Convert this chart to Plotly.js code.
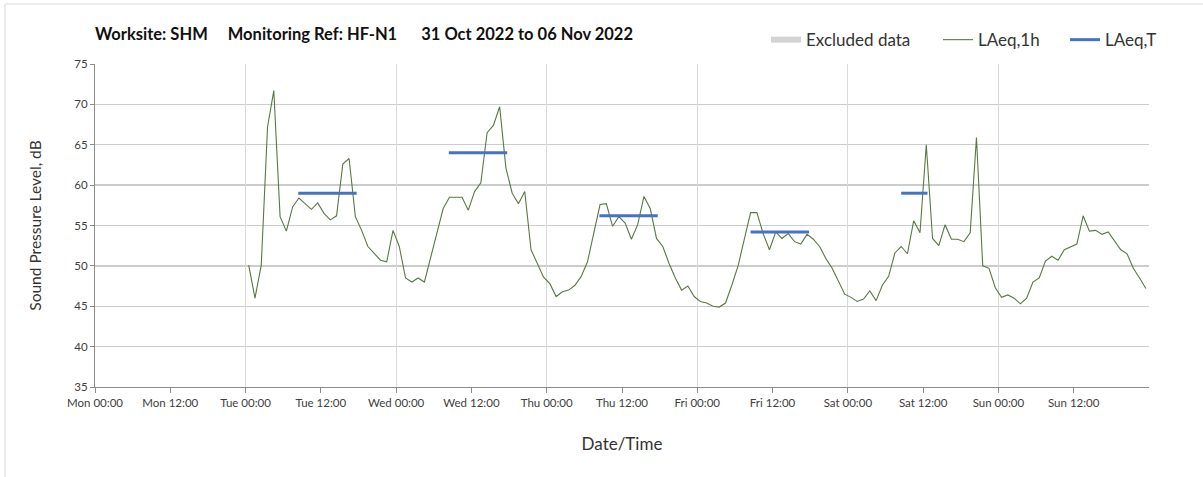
<!DOCTYPE html>
<html>
<head>
<meta charset="utf-8">
<script src="https://cdn.plot.ly/plotly-3.0.1.min.js"></script>
<style>
html,body{margin:0;padding:0;background:#fff;}
#chart{width:1203px;height:477px;}
</style>
</head>
<body>
<div id="chart"></div>
<script>
// Hourly LAeq,1h values, Tue 01 Nov 2022 00:00 to Sun 06 Nov 2022 23:00
var seriesStart = "2022-11-01T00:30:00";
var laeq1h = [
  // Tue
  50.1, 46.0, 50.1, 67.2, 71.7, 56.1, 54.3, 57.3, 58.4, 57.7, 57.0, 57.8,
  56.5, 55.7, 56.2, 62.6, 63.3, 56.1, 54.4, 52.4, 51.6, 50.7, 50.5, 54.4,
  // Wed
  52.4, 48.5, 48.0, 48.5, 48.0, 51.1, 54.0, 57.1, 58.5, 58.5, 58.5, 56.9,
  59.2, 60.3, 66.5, 67.4, 69.7, 62.1, 59.0, 57.7, 59.2, 52.0, 50.4, 48.6,
  // Thu
  47.8, 46.2, 46.8, 47.0, 47.6, 48.7, 50.5, 54.0, 57.6, 57.7, 54.9, 56.1,
  55.3, 53.3, 55.1, 58.6, 57.1, 53.4, 52.4, 50.3, 48.5, 47.0, 47.5, 46.2,
  // Fri
  45.6, 45.4, 45.0, 44.9, 45.4, 47.6, 50.0, 53.3, 56.6, 56.6, 54.0, 52.0,
  54.2, 53.4, 54.0, 53.0, 52.7, 53.9, 53.3, 52.4, 50.9, 49.7, 48.0, 46.5,
  // Sat
  46.1, 45.6, 45.9, 46.9, 45.7, 47.6, 48.7, 51.6, 52.4, 51.5, 55.6, 54.1,
  65.0, 53.4, 52.5, 55.1, 53.3, 53.3, 53.0, 54.1, 65.9, 50.0, 49.7, 47.3,
  // Sun
  46.1, 46.4, 46.0, 45.3, 46.0, 48.0, 48.5, 50.6, 51.2, 50.7, 52.0, 52.3,
  52.7, 56.2, 54.3, 54.4, 53.9, 54.2, 53.1, 52.0, 51.5, 49.7, 48.5, 47.2
];

// LAeq,T period values
var periodStart = ["2022-11-01 08:24", "2022-11-02 08:24", "2022-11-03 08:24", "2022-11-04 08:30", "2022-11-05 08:30"];
var periodEnd   = ["2022-11-01 17:42", "2022-11-02 17:42", "2022-11-03 17:42", "2022-11-04 17:48", "2022-11-05 12:42"];
var periodValue = [59.0, 64.0, 56.2, 54.2, 59.0];

var xRange = ["2022-10-31 00:00", "2022-11-07 00:00"];
var xTickVals = ["2022-10-31 00:00","2022-10-31 12:00","2022-11-01 00:00","2022-11-01 12:00","2022-11-02 00:00","2022-11-02 12:00",
  "2022-11-03 00:00","2022-11-03 12:00","2022-11-04 00:00","2022-11-04 12:00","2022-11-05 00:00","2022-11-05 12:00",
  "2022-11-06 00:00","2022-11-06 12:00"];
var xTickText = ["Mon 00:00","Mon 12:00","Tue 00:00","Tue 12:00","Wed 00:00","Wed 12:00","Thu 00:00","Thu 12:00",
  "Fri 00:00","Fri 12:00","Sat 00:00","Sat 12:00","Sun 00:00","Sun 12:00"];
var yTicks = [35, 40, 45, 50, 55, 60, 65, 70, 75];

// Build timestamps for hourly series
function pad(n){return (n<10?"0":"")+n;}
var t0 = new Date(seriesStart + "Z").getTime();
var xHourly = laeq1h.map(function(_, i){
  var d = new Date(t0 + i*3600000);
  return d.getUTCFullYear()+"-"+pad(d.getUTCMonth()+1)+"-"+pad(d.getUTCDate())+" "+pad(d.getUTCHours())+":"+pad(d.getUTCMinutes());
});

var xT = [], yT = [];
for (var k=0;k<periodValue.length;k++){
  xT.push(periodStart[k], periodEnd[k], null);
  yT.push(periodValue[k], periodValue[k], null);
}

var FONT = "Lato, 'Open Sans', sans-serif";

var traces = [
  {type:"scatter", mode:"none", x:[null], y:[null], fill:"toself", fillcolor:"#d3d3d3", name:"Excluded data", legend:"legend", showlegend:true, hoverinfo:"skip"},
  {type:"scatter", mode:"lines", x:xHourly, y:laeq1h, name:"LAeq,1h", line:{color:"#5a7845", width:1.1}, legend:"legend2"},
  {type:"scatter", mode:"lines", x:xT, y:yT, name:"LAeq,T", line:{color:"#4472c4", width:3}, connectgaps:false, legend:"legend3"},
  {type:"scatter", mode:"lines", x:xRange, y:[null,null], xaxis:"x2", showlegend:false, hoverinfo:"skip"}
];

var legendBase = {orientation:"h", yanchor:"middle", y:1.074, xanchor:"left", bgcolor:"rgba(0,0,0,0)",
  font:{family:FONT, size:17, color:"#333"}, itemwidth:30, tracegroupgap:0};

var layout = {
  width:1203, height:477,
  margin:{l:95, r:54, t:64, b:90},
  paper_bgcolor:"#fff", plot_bgcolor:"#fff",
  font:{family:FONT, color:"#404040"},
  title:{text:"<b>Worksite: SHM     Monitoring Ref: HF-N1      31 Oct 2022 to 06 Nov 2022</b>",
    x:95/1203, xanchor:"left", xref:"container", y:1-34/477, yanchor:"middle", yref:"container",
    font:{family:FONT, size:16.5, color:"#111"}},
  xaxis:{type:"date", range:xRange, tickvals:xTickVals, ticktext:xTickText,
    showgrid:false, zeroline:false, showline:true, linecolor:"#8c8c8c", linewidth:1,
    ticks:"outside", ticklen:5, tickcolor:"#8c8c8c",
    tickfont:{family:FONT, size:11.5, color:"#404040"},
    title:{text:"Date/Time", font:{family:FONT, size:17, color:"#333"}, standoff:30}},
  xaxis2:{type:"date", range:xRange, overlaying:"x", dtick:86400000, tick0:"2022-10-31 00:00",
    showgrid:true, gridcolor:"#d9d9d9", gridwidth:1, showticklabels:false, ticks:"", zeroline:false, showline:false, side:"bottom"},
  yaxis:{range:[35,75], tickvals:yTicks, showgrid:true, gridcolor:"#cccccc", gridwidth:1.3, zeroline:false,
    showline:true, linecolor:"#8c8c8c", linewidth:1, ticks:"outside", ticklen:4, tickcolor:"#8c8c8c",
    tickfont:{family:FONT, size:11.5, color:"#404040"},
    title:{text:"Sound Pressure Level, dB", font:{family:FONT, size:15.5, color:"#333"}, standoff:28}},
  legend: Object.assign({}, legendBase, {x:(766-95)/1054}),
  legend2: Object.assign({}, legendBase, {x:(938-95)/1054}),
  legend3: Object.assign({}, legendBase, {x:(1065-95)/1054}),
  shapes:[{type:"rect", xref:"paper", yref:"paper", x0:(5-95)/1054, x1:(1240-95)/1054, y0:-0.5, y1:1+(64-4)/323,
    line:{color:"#d9d9d9", width:1}, fillcolor:"rgba(0,0,0,0)", layer:"below"}],
  showlegend:true
};

Plotly.newPlot("chart", traces, layout, {displayModeBar:false, staticPlot:true});
</script>
</body>
</html>
